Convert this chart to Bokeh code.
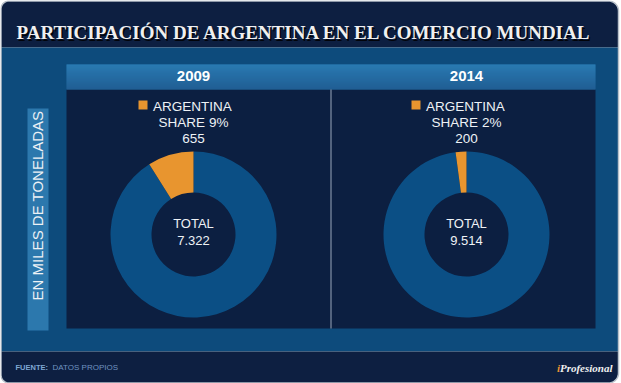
import math
from bokeh.plotting import figure
from bokeh.models import Range1d
from bokeh.core.properties import value
from bokeh.embed import file_html
from bokeh.resources import INLINE

# ---------------- data ----------------
title = "PARTICIPACIÓN DE ARGENTINA EN EL COMERCIO MUNDIAL"
years = ["2009", "2014"]
totals = [7322, 9514]          # miles de toneladas
argentina = [655, 200]         # miles de toneladas
legend_label = "ARGENTINA"
side_label = "EN MILES DE TONELADAS"
source_label = "FUENTE:"
source_text = "DATOS PROPIOS"
brand_i = "i"
brand_rest = "Profesional"

# ---------------- style ----------------
DARK = "#0d1f41"
MID = "#0d4b7c"
PANEL = "#0c1f41"
SIDE = "#2c78ad"
RING = "#0b4f85"
ORANGE = "#e8952f"
TXT = "#eef2f6"
SANS = value("Liberation Sans")
SERIF = value("Liberation Serif")

W, H = 621, 383


def Y(v):
    return H - v


def rounded(x0, x1, y0, y1, rtl, rtr, rbr, rbl, seg=10):
    """polygon (screen-style y down) with rounded corners, returned in plot coords"""
    xs, ys = [], []

    def arc(cx, cy, r, a_start, a_end):
        if r == 0:
            xs.append(cx); ys.append(cy)
            return
        for k in range(seg + 1):
            a = a_start + (a_end - a_start) * k / seg
            xs.append(cx + r * math.cos(a)); ys.append(cy + r * math.sin(a))

    arc(x0 + rtl, y0 + rtl, rtl, math.pi, 1.5 * math.pi)
    arc(x1 - rtr, y0 + rtr, rtr, 1.5 * math.pi, 2 * math.pi)
    arc(x1 - rbr, y1 - rbr, rbr, 0, 0.5 * math.pi)
    arc(x0 + rbl, y1 - rbl, rbl, 0.5 * math.pi, math.pi)
    return xs, [Y(v) for v in ys]


p = figure(width=W, height=H, x_range=Range1d(0, W), y_range=Range1d(0, H),
           output_backend="svg", toolbar_location=None, min_border=0,
           x_axis_location=None, y_axis_location=None)
p.grid.visible = False
p.outline_line_color = None
p.background_fill_color = "#ffffff"
p.border_fill_color = "#ffffff"

FX0, FX1, FY0, FY1, R = 0.5, 618, 0.5, 382.5, 8
# title band, middle band, footer band
xs, ys = rounded(FX0, FX1, FY0, 47, R, R + 2, 0, 0)
p.patch(xs, ys, fill_color=DARK, line_color=None)
p.quad(left=[FX0], right=[FX1], top=[Y(47)], bottom=[Y(351)], fill_color=MID, line_color=None)
xs, ys = rounded(FX0, FX1, 351, FY1, 0, 0, R + 2, R)
p.patch(xs, ys, fill_color=DARK, line_color=None)
# outer border
xs, ys = rounded(FX0, FX1, FY0, FY1, R, R + 2, R + 2, R)
p.patch(xs, ys, fill_color=None, line_color="#b9c1ca", line_width=1.5)

# side label bar
p.quad(left=[27], right=[48], top=[Y(108)], bottom=[Y(330)], fill_color=SIDE, line_color=None)
# chart panel
p.quad(left=[66], right=[595], top=[Y(89)], bottom=[Y(328)], fill_color=PANEL, line_color=None)
# header gradient
c0 = (0x33, 0x89, 0xc3)
c1 = (0x27, 0x66, 0x9c)
n = 25
cols = []
for i in range(n):
    t = i / (n - 1)
    cols.append("#%02x%02x%02x" % tuple(int(round(a + (b - a) * t)) for a, b in zip(c0, c1)))
p.quad(left=[66] * n, right=[595] * n, top=[Y(64 + i) for i in range(n)],
       bottom=[Y(65 + i) for i in range(n)], fill_color=cols, line_color=None)
# divider
p.segment(x0=[330.5], y0=[Y(89)], x1=[330.5], y1=[Y(328)], line_color="#9aa8bc", line_width=1)

# title with shadow
p.text(x=[17.5], y=[Y(33.5)], text=[title], text_font=SERIF, text_font_style="bold",
       text_font_size="19px", text_color="#000000", text_alpha=0.85, text_baseline="alphabetic")
p.text(x=[16], y=[Y(32)], text=[title], text_font=SERIF, text_font_style="bold",
       text_font_size="19px", text_color="#f0f0f0", text_baseline="alphabetic")

# side label
p.text(x=[37], y=[Y(205)], text=[side_label], angle=math.pi / 2, text_font=SANS,
       text_font_size="15px", text_color=TXT, text_align="center", text_baseline="middle")

centers = [193, 466]
cy = 234
for yr, tot, arg, cx in zip(years, totals, argentina, centers):
    share = arg / tot
    a0 = math.pi / 2
    a1 = a0 + 2 * math.pi * share
    p.annular_wedge(x=[cx], y=[Y(cy)], inner_radius=42, outer_radius=83,
                    start_angle=[a1], end_angle=[a0 + 2 * math.pi], fill_color=RING, line_color=None)
    p.annular_wedge(x=[cx], y=[Y(cy)], inner_radius=42, outer_radius=83,
                    start_angle=[a0], end_angle=[a1], fill_color=ORANGE, line_color=None)
    # year header
    p.text(x=[cx], y=[Y(75.5)], text=[yr], text_font=SANS, text_font_style="bold",
           text_font_size="15px", text_color="#ffffff", text_align="center", text_baseline="middle")
    # legend square + label
    p.quad(left=[cx - 55], right=[cx - 46], top=[Y(100)], bottom=[Y(109)], fill_color=ORANGE, line_color=None)
    p.text(x=[cx - 40.5], y=[Y(105.5)], text=[legend_label], text_font=SANS, text_font_size="13.5px",
           text_color=TXT, text_align="left", text_baseline="middle")
    p.text(x=[cx], y=[Y(122)], text=["SHARE %d%%" % round(share * 100)], text_font=SANS,
           text_font_size="13.5px", text_color=TXT, text_align="center", text_baseline="middle")
    p.text(x=[cx], y=[Y(138)], text=["{:,}".format(arg).replace(",", ".")], text_font=SANS,
           text_font_size="13.5px", text_color=TXT, text_align="center", text_baseline="middle")
    # total in the hole
    p.text(x=[cx], y=[Y(223)], text=["TOTAL"], text_font=SANS, text_font_size="13px",
           text_color=TXT, text_align="center", text_baseline="middle")
    p.text(x=[cx], y=[Y(239.5)], text=["{:,}".format(tot).replace(",", ".")], text_font=SANS,
           text_font_size="13px", text_color=TXT, text_align="center", text_baseline="middle")

# footer
p.text(x=[15], y=[Y(367)], text=[source_label], text_font=SANS, text_font_style="bold",
       text_font_size="7.5px", text_color="#7fa7d4", text_baseline="middle")
p.text(x=[52], y=[Y(367)], text=[source_text], text_font=SANS,
       text_font_size="8px", text_color="#6f93c0", text_baseline="middle")
p.text(x=[612], y=[Y(367)], text=[brand_rest], text_font=SERIF, text_font_style="bold italic",
       text_font_size="11px", text_color="#f0f0f0", text_align="right", text_baseline="middle")
p.text(x=[559.5], y=[Y(367)], text=[brand_i], text_font=SERIF, text_font_style="bold italic",
       text_font_size="11px", text_color=ORANGE, text_align="right", text_baseline="middle")

open("out.html", "w").write(file_html(p, INLINE))
